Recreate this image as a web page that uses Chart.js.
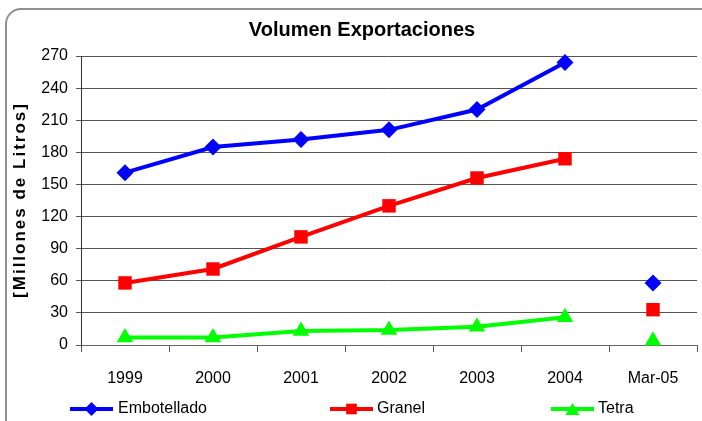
<!DOCTYPE html>
<html>
<head>
<meta charset="utf-8">
<script src="https://cdn.jsdelivr.net/npm/chart.js@4.4.1/dist/chart.umd.min.js"></script>
<style>
  html, body { margin: 0; padding: 0; background: #ffffff; overflow: hidden; }
  #wrap { position: relative; width: 702px; height: 421px; overflow: hidden; }
  #frame { position: absolute; left: 5px; top: 8px; width: 760px; height: 480px;
           border: 2px solid #8f8f8f; border-radius: 16px; box-sizing: border-box; }
  #c { position: absolute; left: 0; top: 0; }
</style>
</head>
<body>
<div id="wrap">
  <div id="frame"></div>
  <canvas id="c" width="702" height="421"></canvas>
</div>
<script>
// ---- data ----
const categories = ['1999', '2000', '2001', '2002', '2003', '2004', 'Mar-05'];
const embotellado = [161, 185, 192, 201, 220, 264, 58];
const granel = [58, 71, 101, 130, 156, 174, 33];
const tetra = [7, 7, 13, 14, 17, 26, 4];
const yTicks = [0, 30, 60, 90, 120, 150, 180, 210, 240, 270];
const seriesNames = ['Embotellado', 'Granel', 'Tetra'];

const FONT = "'Liberation Sans', Arial, sans-serif";
const lastIdx = categories.length - 1;

function series(label, data, color, style, radius) {
  return {
    label, data,
    borderColor: color,
    backgroundColor: color,
    borderWidth: 4,
    pointStyle: style,
    pointRadius: radius,
    pointHoverRadius: radius,
    pointBorderWidth: 0,
    pointBackgroundColor: color,
    tension: 0,
    clip: false,
    segment: {
      borderColor: ctx => (ctx.p1DataIndex === lastIdx ? 'rgba(0,0,0,0)' : undefined)
    }
  };
}

const datasets = [
  series(seriesNames[0], embotellado, '#0000ff', 'rectRot', 8.5),
  series(seriesNames[1], granel, '#ff0000', 'rect', 9.5),
  series(seriesNames[2], tetra, '#00ff00', 'triangle', 9.5)
];

const decorPlugin = {
  id: 'decor',
  afterDraw(chart) {
    const ctx = chart.ctx;
    // y-axis title with letter spacing
    ctx.save();
    ctx.translate(20, 200);
    ctx.rotate(-Math.PI / 2);
    ctx.font = "bold 17px " + FONT;
    ctx.fillStyle = '#000';
    ctx.textAlign = 'center';
    ctx.textBaseline = 'middle';
    try { ctx.letterSpacing = '2px'; } catch (e) {}
    ctx.fillText('[Millones de Litros]', 0, 0);
    ctx.restore();

    // legend
    const items = [
      { x1: 70, x2: 113, tx: 118 },
      { x1: 330, x2: 373, tx: 377 },
      { x1: 551, x2: 594, tx: 598 }
    ];
    const ly = 409;
    const legendRadius = [7, 7.5, 8];
    chart.data.datasets.forEach((ds, i) => {
      const it = items[i];
      ctx.save();
      ctx.strokeStyle = ds.borderColor;
      ctx.lineWidth = 4;
      ctx.beginPath();
      ctx.moveTo(it.x1, ly);
      ctx.lineTo(it.x2, ly);
      ctx.stroke();
      ctx.fillStyle = ds.borderColor;
      const cx = (it.x1 + it.x2) / 2;
      const opts = { pointStyle: ds.pointStyle, radius: legendRadius[i], rotation: 0, borderWidth: 0 };
      if (Chart.helpers && Chart.helpers.drawPoint) {
        Chart.helpers.drawPoint(ctx, opts, cx, ds.pointStyle === 'triangle' ? ly + 2 : ly);
      }
      ctx.fillStyle = '#000';
      ctx.font = "16px " + FONT;
      ctx.textAlign = 'left';
      ctx.textBaseline = 'middle';
      ctx.fillText(ds.label, it.tx, ly);
      ctx.restore();
    });
  }
};

new Chart(document.getElementById('c'), {
  type: 'line',
  data: { labels: categories, datasets },
  plugins: [decorPlugin],
  options: {
    responsive: false,
    devicePixelRatio: 1,
    animation: false,
    events: [],
    layout: { autoPadding: false, padding: { left: 27, right: 5, top: 0, bottom: 0 } },
    plugins: {
      legend: { display: false },
      tooltip: { enabled: false },
      title: {
        display: true,
        text: 'Volumen Exportaciones',
        color: '#000',
        font: { family: FONT, size: 20, weight: 'bold' },
        padding: { top: 18, bottom: 14 }
      }
    },
    scales: {
      x: {
        type: 'category',
        offset: true,
        grid: {
          offset: true,
          drawOnChartArea: false,
          drawTicks: true,
          tickLength: 7,
          color: '#555'
        },
        border: { display: true, color: '#666', width: 1 },
        ticks: {
          color: '#000',
          font: { family: FONT, size: 16 },
          padding: 17,
          maxRotation: 0,
          autoSkip: false
        },
        afterFit(scale) {
          scale.height = 76;
          scale.paddingLeft = 0;
          scale.paddingRight = 0;
        }
      },
      y: {
        min: 0,
        max: 270,
        afterBuildTicks(scale) { scale.ticks = yTicks.map(v => ({ value: v })); },
        grid: {
          color: '#555',
          lineWidth: 1,
          drawTicks: true,
          tickLength: 5
        },
        border: { display: true, color: '#333', width: 1 },
        ticks: {
          color: '#000',
          font: { family: FONT, size: 16 },
          padding: 8
        },
        afterFit(scale) { scale.width = 54; }
      }
    }
  }
});
</script>
</body>
</html>
